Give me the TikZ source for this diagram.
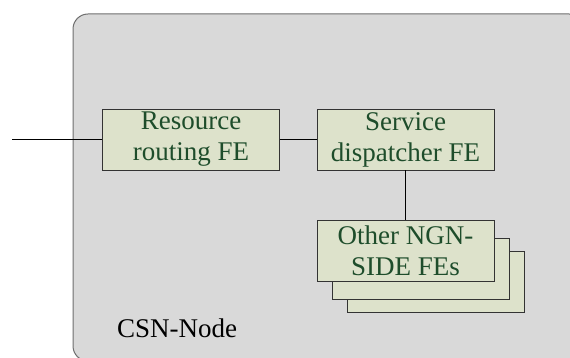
\documentclass[tikz,border=0pt]{standalone}
\usepackage{fontspec}
\setmainfont{Liberation Serif}
\usepackage{xcolor}
\definecolor{nodegray}{HTML}{D9D9D9}
\definecolor{nodeedge}{HTML}{6E6E6E}
\definecolor{fefill}{HTML}{DDE2CB}
\definecolor{fetext}{HTML}{1E4D2B}

\tikzset{
  febox/.style={draw=black!80, line width=0.8pt, fill=fefill, text=fetext,
    align=center, inner sep=0pt, minimum width=177pt, minimum height=61pt,
    font=\fontsize{27}{31}\selectfont},
  link/.style={black, line width=0.7pt}
}

\begin{document}
\begin{tikzpicture}[x=1pt, y=-1pt]

\useasboundingbox (0,0) rectangle (570,358);
\clip (0,0) rectangle (570,358);

%% ------------------------------------------------------------------
%% the CSN node: a rounded grey box running off the right and bottom
%% ------------------------------------------------------------------
\draw[nodeedge, line width=1pt, fill=nodegray, rounded corners=15pt]
  (73,14) rectangle (584,361);
\node[anchor=base west, inner sep=0pt, font=\fontsize{27}{31}\selectfont]
  (csn) at (117,337) {CSN-Node};

%% the functional entities
\node[febox] (routing) at (191,139.5) {Resource\\routing FE};
\node[febox] (dispatcher) at (405.5,139.5) {Service\\dispatcher FE};

% stack of other FEs, back to front
\node[febox] (others3) at (435.5,281.5) {};
\node[febox] (others2) at (420.5,268.5) {};
\node[febox] (others) at (405.5,250.5) {Other NGN-\\SIDE FEs};

%% links
\coordinate (in) at (12,139.5);
\draw[link] (in) -- (routing.west);
\draw[link] (routing.east) -- (dispatcher.west);
\draw[link] (dispatcher.south) -- (others.north);

\end{tikzpicture}
\end{document}
